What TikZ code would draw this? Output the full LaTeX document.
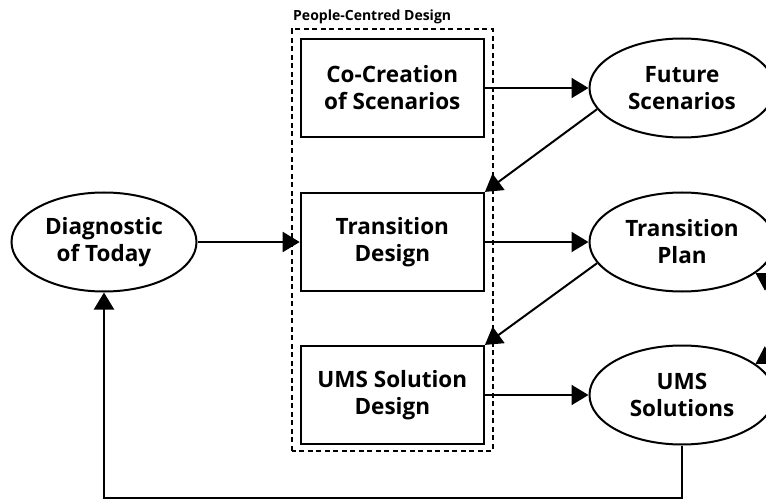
\documentclass[tikz,border=0pt]{standalone}
\usepackage{fontspec}
\setmainfont{Open Sans}
\usetikzlibrary{shapes.geometric,arrows.meta}

\tikzset{
  stage/.style={draw,line width=2.2pt,minimum width=183pt,minimum height=98pt,align=center,
    font=\fontsize{22.5}{27}\selectfont\bfseries},
  result/.style={draw,ellipse,line width=2pt,minimum width=185pt,minimum height=99pt,align=center,
    font=\fontsize{22.5}{27}\selectfont\bfseries},
  flow/.style={line width=2pt,-{Triangle[length=17pt,width=20pt]}}
}

\begin{document}
\begin{tikzpicture}[x=1pt,y=1pt]

\useasboundingbox (0,0) rectangle (766,499);
\clip (0,0) rectangle (766,499);

\node[result] (dt) at (104,257) {Diagnostic\\of Today};

\begin{scope}
\node[stage] (cc) at (392.3,411) {Co-Creation\\of Scenarios};
\node[stage] (td) at (392.3,257) {Transition\\Design};
\node[stage] (ud) at (392.3,104) {UMS Solution\\Design};

\draw[line width=1.6pt,dash pattern=on 5pt off 3.5pt] (291.7,48.3) rectangle (492.7,469.7);
\node[anchor=base west,inner sep=0pt,font=\fontsize{14}{16}\selectfont\bfseries] (pcd) at (293,478) {People-Centred Design};
\end{scope}

\node[result] (fs) at (682,411) {Future\\Scenarios};
\node[result] (tp) at (682,257) {Transition\\Plan};
\node[result] (us) at (682,104) {UMS\\Solutions};

\coordinate (out1) at (830,182);
\coordinate (out2) at (830,180);

\draw[flow] (dt) -- (td);
\draw[flow] (cc) -- (fs);
\draw[flow] (td) -- (tp);
\draw[flow] (ud) -- (us);

\draw[flow] (fs.194) -- (td.north east);
\draw[flow] (tp.194) -- (ud.north east);

\draw[flow] (us.south) -- ++(0,-52) -| (dt.south);

\draw[flow] (out1) -- (tp.-23);
\draw[flow] (out2) -- (us.23);

\end{tikzpicture}
\end{document}
